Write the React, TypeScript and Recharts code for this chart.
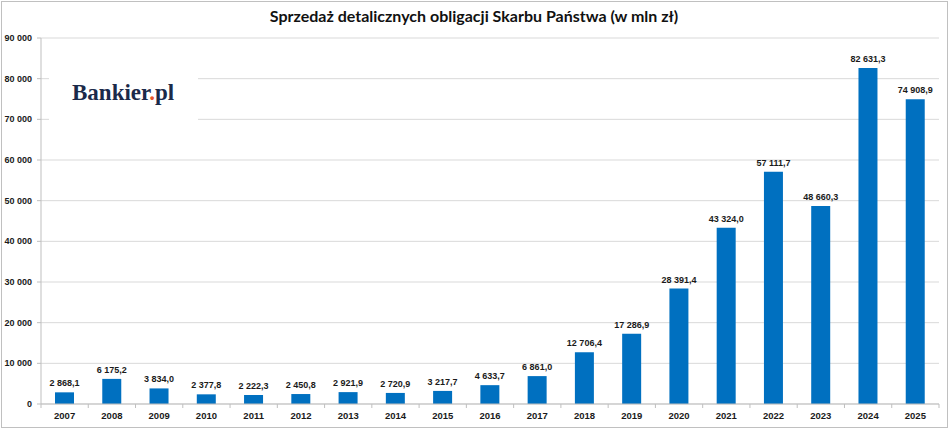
import { BarChart, Bar, XAxis, YAxis, CartesianGrid, LabelList } from "recharts"

const years = [
  "2007", "2008", "2009", "2010", "2011", "2012", "2013", "2014", "2015", "2016",
  "2017", "2018", "2019", "2020", "2021", "2022", "2023", "2024", "2025",
]

const sales = [
  2868.1, 6175.2, 3834.0, 2377.8, 2222.3, 2450.8, 2921.9, 2720.9, 3217.7, 4633.7,
  6861.0, 12706.4, 17286.9, 28391.4, 43324.0, 57111.7, 48660.3, 82631.3, 74908.9,
]

const yTicks = [0, 10000, 20000, 30000, 40000, 50000, 60000, 70000, 80000, 90000]

const data = years.map((year, i) => ({ year, value: sales[i] }))

const W = 948
const H = 428
const LEFT = 41
const RIGHT = 9
const BAND = (W - LEFT - RIGHT) / years.length

const FONT = "'Liberation Sans', Arial, sans-serif"

// polish number format: (non-breaking) space for thousands, comma for decimals
const groupThousands = (s: string) => s.replace(/\B(?=(\d{3})+(?!\d))/g, "\u00A0")
const fmtTick = (v: number) => groupThousands(String(v))
const fmtValue = (v: number) => {
  const [int, dec] = v.toFixed(1).split(".")
  return groupThousands(int) + "," + dec
}

function YTick(props: any) {
  const { x, y, payload } = props
  return (
    <text x={x} y={y + 3} textAnchor="end" fontSize={9} fontWeight={700} fill="#1a1a1a" fontFamily={FONT}>
      {fmtTick(payload.value)}
    </text>
  )
}

function XTick(props: any) {
  const { x, y, payload, index } = props
  const left = x - BAND / 2
  return (
    <g>
      <line x1={left} x2={left} y1={y - 6} y2={y - 2} stroke="#bfbfbf" />
      {index === years.length - 1 && (
        <line x1={x + BAND / 2} x2={x + BAND / 2} y1={y - 6} y2={y - 2} stroke="#bfbfbf" />
      )}
      <text x={x} y={y + 9} textAnchor="middle" fontSize={9.5} fontWeight={700} fill="#1a1a1a" fontFamily={FONT}>
        {payload.value}
      </text>
    </g>
  )
}

function App() {
  return (
    <div style={{ position: "relative", width: W, height: H, background: "#fff" }}>
      <style>{"body{margin:0}"}</style>
      <div
        style={{
          position: "absolute",
          left: 1,
          top: 1,
          width: W - 3,
          height: H - 3,
          border: "1px solid #c0c0c0",
        }}
      />
      <BarChart
        width={W}
        height={H}
        data={data}
        margin={{ top: 38, right: RIGHT, bottom: 0, left: 0 }}
        style={{ overflow: "visible" }}
      >
        <CartesianGrid vertical={false} stroke="#d9d9d9" />
        <XAxis
          dataKey="year"
          height={24}
          interval={0}
          tickSize={4}
          tickMargin={2}
          tickLine={false}
          axisLine={{ stroke: "#bfbfbf" }}
          tick={<XTick />}
        />
        <YAxis
          width={LEFT}
          domain={[0, 90000]}
          ticks={yTicks}
          interval={0}
          tickSize={4}
          tickMargin={5}
          axisLine={{ stroke: "#bfbfbf" }}
          tickLine={{ stroke: "#bfbfbf" }}
          tick={<YTick />}
        />
        <Bar dataKey="value" fill="#0070C0" barSize={19} isAnimationActive={false}>
          <LabelList
            dataKey="value"
            position="top"
            offset={6}
            formatter={(v: any) => fmtValue(Number(v))}
            style={{ fontSize: 9, fontWeight: 700, fill: "#1a1a1a", fontFamily: FONT }}
          />
        </Bar>
      </BarChart>
      <div
        style={{
          position: "absolute",
          left: 0,
          top: 6,
          width: W,
          textAlign: "center",
          fontFamily: "Lato, sans-serif",
          fontWeight: 700,
          fontSize: 16,
          color: "#111",
        }}
      >
        Sprzedaż detalicznych obligacji Skarbu Państwa (w mln zł)
      </div>
      <div
        style={{
          position: "absolute",
          left: 49,
          top: 60,
          width: 149,
          height: 80,
          background: "#fff",
        }}
      >
        <div
          style={{
            position: "absolute",
            left: 23,
            top: 20,
            fontFamily: "'Liberation Serif', serif",
            fontWeight: 700,
            fontSize: 23,
            color: "#1b2a4a",
            whiteSpace: "nowrap",
          }}
        >
          Bankier<span style={{ color: "#e8562a" }}>.</span>pl
        </div>
      </div>
    </div>
  )
}

export default App
